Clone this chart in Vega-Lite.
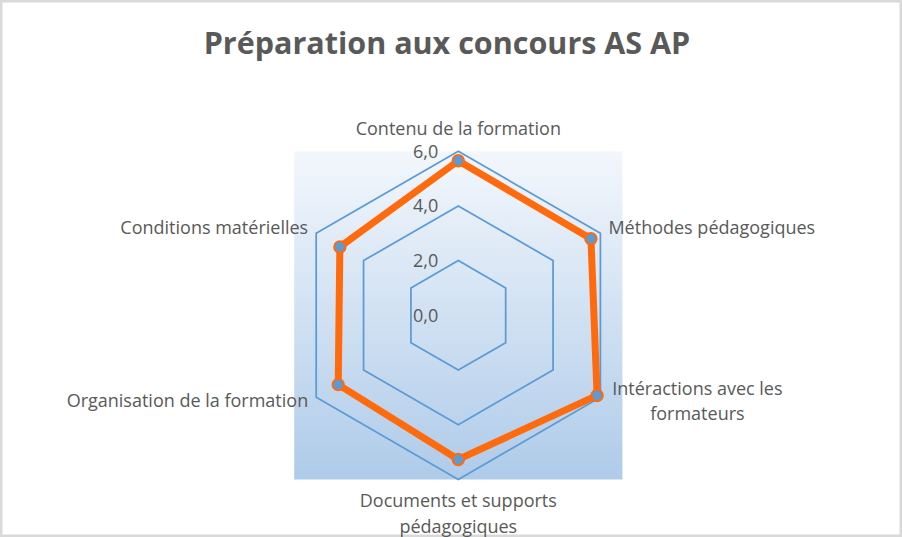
{
  "$schema": "https://vega.github.io/schema/vega-lite/v6.json",
  "width": 902,
  "height": 537,
  "autosize": {"type": "none"},
  "padding": 0,
  "background": "white",
  "config": {
    "view": {"stroke": "#D9D9D9", "strokeWidth": 5},
    "locale": {"number": {"decimal": ",", "thousands": "\u00a0", "grouping": [3], "currency": ["", "\u00a0€"]}},
    "font": "Open Sans"
  },
  "title": {
    "text": "Préparation aux concours AS AP",
    "font": "Open Sans",
    "fontSize": 30.5,
    "fontWeight": "bold",
    "color": "#595959",
    "anchor": "middle",
    "frame": "group",
    "baseline": "alphabetic",
    "offset": -84,
    "dx": -4
  },
  "datasets": {
    "notes": [
      {"axe": "Contenu de la formation", "libelle": "Contenu de la formation", "ordre": 0, "note": 5.65},
      {"axe": "Méthodes pédagogiques", "libelle": "Méthodes pédagogiques", "ordre": 1, "note": 5.6},
      {"axe": "Intéractions avec les formateurs", "libelle": "Intéractions avec les\nformateurs", "ordre": 2, "note": 5.86},
      {"axe": "Documents et supports pédagogiques", "libelle": "Documents et supports\npédagogiques", "ordre": 3, "note": 5.27},
      {"axe": "Organisation de la formation", "libelle": "Organisation de la formation", "ordre": 4, "note": 5.07},
      {"axe": "Conditions matérielles", "libelle": "Conditions matérielles", "ordre": 5, "note": 5.0}
    ],
    "grille": [
      {"niveau": 2, "ordre": 0}, {"niveau": 2, "ordre": 1}, {"niveau": 2, "ordre": 2},
      {"niveau": 2, "ordre": 3}, {"niveau": 2, "ordre": 4}, {"niveau": 2, "ordre": 5},
      {"niveau": 4, "ordre": 0}, {"niveau": 4, "ordre": 1}, {"niveau": 4, "ordre": 2},
      {"niveau": 4, "ordre": 3}, {"niveau": 4, "ordre": 4}, {"niveau": 4, "ordre": 5},
      {"niveau": 6, "ordre": 0}, {"niveau": 6, "ordre": 1}, {"niveau": 6, "ordre": 2},
      {"niveau": 6, "ordre": 3}, {"niveau": 6, "ordre": 4}, {"niveau": 6, "ordre": 5}
    ],
    "graduations": [{"niveau": 0}, {"niveau": 2}, {"niveau": 4}, {"niveau": 6}],
    "cadre": [{"borne": 6}]
  },
  "encoding": {
    "x": {"field": "px", "type": "quantitative", "scale": {"domain": [-16.757, 16.223], "nice": false, "zero": false}, "axis": null},
    "y": {"field": "py", "type": "quantitative", "scale": {"domain": [-8.106, 11.528], "nice": false, "zero": false}, "axis": null}
  },
  "layer": [
    {
      "data": {"name": "cadre"},
      "transform": [
        {"calculate": "-datum.borne", "as": "px"},
        {"calculate": "datum.borne", "as": "px2"},
        {"calculate": "datum.borne", "as": "py"},
        {"calculate": "-datum.borne", "as": "py2"}
      ],
      "mark": {
        "type": "rect",
        "color": {"gradient": "linear", "x1": 0, "y1": 0, "x2": 0, "y2": 1, "stops": [{"offset": 0, "color": "#F3F7FC"}, {"offset": 1, "color": "#AFCBE9"}]},
        "opacity": 1
      },
      "encoding": {
        "x2": {"field": "px2"},
        "y2": {"field": "py2"}
      }
    },
    {
      "data": {"name": "grille"},
      "transform": [
        {"calculate": "datum.niveau * sin(datum.ordre * PI / 3)", "as": "px"},
        {"calculate": "datum.niveau * cos(datum.ordre * PI / 3)", "as": "py"}
      ],
      "mark": {"type": "line", "interpolate": "linear-closed", "color": "#5B9BD5", "strokeWidth": 1.75},
      "encoding": {
        "detail": {"field": "niveau", "type": "nominal"},
        "order": {"field": "ordre", "type": "quantitative"}
      }
    },
    {
      "data": {"name": "graduations"},
      "transform": [
        {"calculate": "0", "as": "px"},
        {"calculate": "datum.niveau", "as": "py"}
      ],
      "mark": {"type": "text", "align": "right", "baseline": "middle", "dx": -20, "dy": 1.5, "fontSize": 18, "color": "#595959"},
      "encoding": {
        "text": {"field": "niveau", "type": "quantitative", "format": ".1f"}
      }
    },
    {
      "data": {"name": "notes"},
      "transform": [
        {"calculate": "datum.note * sin(datum.ordre * PI / 3)", "as": "px"},
        {"calculate": "datum.note * cos(datum.ordre * PI / 3)", "as": "py"}
      ],
      "mark": {"type": "line", "interpolate": "linear-closed", "color": "#FF6A0D", "strokeWidth": 7, "strokeJoin": "round"},
      "encoding": {
        "order": {"field": "ordre", "type": "quantitative"}
      }
    },
    {
      "data": {"name": "notes"},
      "transform": [
        {"calculate": "datum.note * sin(datum.ordre * PI / 3)", "as": "px"},
        {"calculate": "datum.note * cos(datum.ordre * PI / 3)", "as": "py"}
      ],
      "mark": {"type": "point", "shape": "circle", "filled": true, "size": 130, "fill": "#5B9BD5", "stroke": "#FF6A0D", "strokeWidth": 2, "opacity": 1}
    },
    {
      "data": {"name": "notes"},
      "transform": [
        {"filter": "datum.ordre == 0"},
        {"calculate": "6 * sin(datum.ordre * PI / 3)", "as": "px"},
        {"calculate": "6 * cos(datum.ordre * PI / 3)", "as": "py"}
      ],
      "mark": {"type": "text", "align": "center", "baseline": "middle", "dy": -21, "fontSize": 18, "color": "#595959"},
      "encoding": {"text": {"field": "libelle", "type": "nominal"}}
    },
    {
      "data": {"name": "notes"},
      "transform": [
        {"filter": "datum.ordre == 3"},
        {"calculate": "6 * sin(datum.ordre * PI / 3)", "as": "px"},
        {"calculate": "6 * cos(datum.ordre * PI / 3)", "as": "py"}
      ],
      "mark": {"type": "text", "align": "center", "baseline": "top", "dy": 14, "fontSize": 18, "lineHeight": 26, "lineBreak": "\n", "color": "#595959"},
      "encoding": {"text": {"field": "libelle", "type": "nominal"}}
    },
    {
      "data": {"name": "notes"},
      "transform": [
        {"filter": "datum.ordre == 1"},
        {"calculate": "6 * sin(datum.ordre * PI / 3)", "as": "px"},
        {"calculate": "6 * cos(datum.ordre * PI / 3)", "as": "py"}
      ],
      "mark": {"type": "text", "align": "left", "baseline": "middle", "dx": 8, "dy": -4, "fontSize": 18, "color": "#595959"},
      "encoding": {"text": {"field": "libelle", "type": "nominal"}}
    },
    {
      "data": {"name": "notes"},
      "transform": [
        {"filter": "datum.ordre == 2"},
        {"calculate": "6 * sin(datum.ordre * PI / 3)", "as": "px"},
        {"calculate": "6 * cos(datum.ordre * PI / 3)", "as": "py"}
      ],
      "mark": {"type": "text", "align": "center", "baseline": "top", "dx": 97, "dy": -16, "fontSize": 18, "lineHeight": 25, "lineBreak": "\n", "color": "#595959"},
      "encoding": {"text": {"field": "libelle", "type": "nominal"}}
    },
    {
      "data": {"name": "notes"},
      "transform": [
        {"filter": "datum.ordre == 5"},
        {"calculate": "6 * sin(datum.ordre * PI / 3)", "as": "px"},
        {"calculate": "6 * cos(datum.ordre * PI / 3)", "as": "py"}
      ],
      "mark": {"type": "text", "align": "right", "baseline": "middle", "dx": -8, "dy": -4, "fontSize": 18, "color": "#595959"},
      "encoding": {"text": {"field": "libelle", "type": "nominal"}}
    },
    {
      "data": {"name": "notes"},
      "transform": [
        {"filter": "datum.ordre == 4"},
        {"calculate": "6 * sin(datum.ordre * PI / 3)", "as": "px"},
        {"calculate": "6 * cos(datum.ordre * PI / 3)", "as": "py"}
      ],
      "mark": {"type": "text", "align": "right", "baseline": "middle", "dx": -8, "dy": 4.4, "fontSize": 18, "color": "#595959"},
      "encoding": {"text": {"field": "libelle", "type": "nominal"}}
    }
  ]
}
